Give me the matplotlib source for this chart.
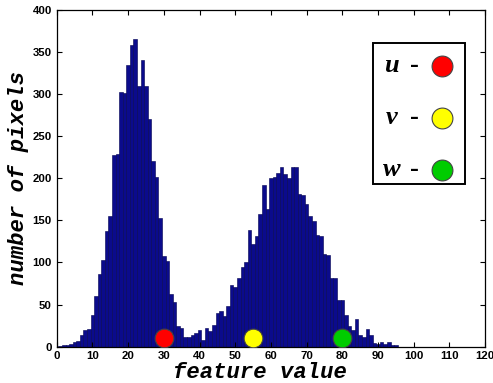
import matplotlib
matplotlib.use("Agg")
import matplotlib.pyplot as plt
from matplotlib.patches import Rectangle

# histogram values (bin centre -> count)
bins = list(range(1, 96))
counts = [1, 2, 2, 3, 6, 7, 14, 20, 21, 38,
          60, 86, 103, 137, 155, 228, 229, 302, 301, 335,
          358, 365, 310, 340, 310, 270, 221, 201, 153, 108,
          102, 62, 53, 24, 22, 12, 12, 14, 16, 20,
          8, 22, 19, 26, 40, 42, 36, 48, 73, 71,
          82, 95, 101, 138, 122, 131, 157, 192, 163, 200,
          202, 206, 213, 205, 200, 213, 214, 181, 180, 169,
          155, 149, 133, 131, 110, 109, 82, 82, 55, 55,
          38, 25, 20, 33, 14, 11, 21, 14, 4, 3,
          6, 3, 6, 2, 2]

# cluster centres shown as circles
centre_x = [30, 55, 80]
centre_y = [10, 10, 10]
centre_names = ["u", "v", "w"]
centre_colors = ["#ff0000", "#ffff00", "#00cc00"]

fig = plt.figure(figsize=(4.93, 3.83), dpi=100)
ax = fig.add_axes([0.115, 0.095, 0.869, 0.879])

ax.bar(bins, counts, width=1.0, color="#0b0b8c", edgecolor="#000050", linewidth=0.4)

for x, y, c in zip(centre_x, centre_y, centre_colors):
    ax.plot(x, y, "o", markersize=13.5, markerfacecolor=c,
            markeredgecolor="#444444", markeredgewidth=0.8, zorder=5)

ax.set_xlim(0, 120)
ax.set_ylim(0, 400)
ax.set_xticks(range(0, 121, 10))
ax.set_yticks(range(0, 401, 50))
ax.tick_params(direction="in", length=3.5, top=True, right=True, width=0.8)
for lab in ax.get_xticklabels() + ax.get_yticklabels():
    lab.set_fontfamily("Liberation Sans")
    lab.set_fontweight("bold")
    lab.set_fontsize(8.2)
for s in ax.spines.values():
    s.set_linewidth(0.9)

mono = dict(family="Liberation Mono", weight="bold", style="italic", fontsize=16)
fig.text(0.528, 0.028, "feature value", ha="center", va="center", **mono)
fig.text(0.037, 0.535, "number of pixels", ha="center", va="center", rotation=90, **mono)

# legend box drawn by hand, like in the original
ax.add_patch(Rectangle((0.739, 0.482), 0.213, 0.419, transform=ax.transAxes,
                       facecolor="white", edgecolor="black", linewidth=1.4, zorder=6))
leg_y = [0.835, 0.680, 0.525]
for name, c, y in zip(centre_names, centre_colors, leg_y):
    ax.text(0.782, y, name, transform=ax.transAxes, ha="center", va="center",
            family="Liberation Serif", weight="bold", style="italic", fontsize=19, zorder=7)
    ax.text(0.845, y, "-", transform=ax.transAxes, ha="right", va="center",
            family="Liberation Serif", weight="bold", fontsize=19, zorder=7)
    ax.plot(0.899, y, "o", transform=ax.transAxes, markersize=15, markerfacecolor=c,
            markeredgecolor="#444444", markeredgewidth=0.8, zorder=7, clip_on=False)

fig.savefig("out.png", dpi=100)
